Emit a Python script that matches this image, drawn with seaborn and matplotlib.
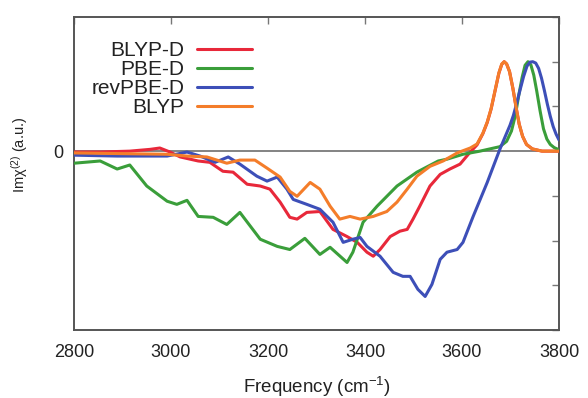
import numpy as np
import pandas as pd
import matplotlib
matplotlib.use("Agg")
import matplotlib.pyplot as plt
import seaborn as sns

# ---- data ----
series_names = ["BLYP-D", "PBE-D", "revPBE-D", "BLYP"]
series_colors = ["#e8283a", "#3a9e3a", "#3d4fb8", "#f47d2a"]

blypd_f = [2800, 2854, 2915, 2957, 2977, 2998, 3019, 3056, 3080, 3107, 3128, 3157, 3184, 3204,
           3225, 3245, 3260, 3280, 3307, 3334, 3363, 3384, 3404, 3417, 3431, 3452, 3472, 3487,
           3499, 3513, 3534, 3555, 3575, 3596, 3617, 3631, 3643, 3652, 3660, 3668, 3676, 3682,
           3687, 3692, 3698, 3705, 3712, 3718, 3725, 3733, 3745, 3765, 3800]
blypd_v = [-0.02, -0.02, 0.00, 0.04, 0.07, -0.02, -0.13, -0.22, -0.25, -0.45, -0.47, -0.74, -0.78, -0.85,
           -1.14, -1.48, -1.52, -1.37, -1.35, -1.75, -1.91, -2.04, -2.26, -2.35, -2.20, -1.91, -1.79, -1.75,
           -1.52, -1.23, -0.78, -0.52, -0.40, -0.29, -0.02, 0.14, 0.39, 0.64, 0.94, 1.34, 1.74, 1.94,
           2.0, 1.95, 1.78, 1.40, 0.95, 0.60, 0.33, 0.15, 0.05, 0.0, 0.0]

pbed_f = [2800, 2854, 2889, 2915, 2950, 2992, 3012, 3033, 3056, 3087, 3115, 3142, 3184, 3219,
          3245, 3276, 3307, 3328, 3363, 3375, 3396, 3425, 3466, 3507, 3551, 3569, 3602, 3637,
          3678, 3692, 3702, 3710, 3717, 3724, 3730, 3736, 3742, 3748, 3754, 3761, 3768, 3775,
          3782, 3790, 3800]
pbed_v = [-0.27, -0.22, -0.40, -0.31, -0.78, -1.12, -1.19, -1.10, -1.46, -1.48, -1.64, -1.37, -1.97, -2.13,
          -2.20, -1.95, -2.31, -2.15, -2.49, -2.26, -1.59, -1.23, -0.78, -0.47, -0.22, -0.18, -0.07, 0.0,
          0.10, 0.22, 0.45, 0.80, 1.25, 1.65, 1.92, 2.0, 1.93, 1.70, 1.35, 0.90, 0.50, 0.27,
          0.15, 0.08, 0.03]

revpbed_f = [2800, 2889, 2992, 3033, 3060, 3091, 3118, 3142, 3177, 3198, 3219, 3239, 3252, 3280,
             3307, 3334, 3355, 3375, 3390, 3404, 3431, 3458, 3478, 3493, 3509, 3524, 3538, 3555,
             3569, 3590, 3602, 3623, 3652, 3665, 3678, 3690, 3699, 3706, 3713, 3720, 3727, 3734,
             3740, 3746, 3752, 3758, 3764, 3770, 3776, 3782, 3788, 3794, 3800]
revpbed_v = [-0.09, -0.11, -0.11, -0.02, -0.11, -0.25, -0.13, -0.29, -0.56, -0.67, -0.58, -0.85, -1.08, -1.19,
             -1.30, -1.59, -2.04, -1.97, -1.93, -2.13, -2.35, -2.71, -2.80, -2.80, -3.09, -3.25, -2.98, -2.42,
             -2.26, -2.20, -2.04, -1.46, -0.70, -0.33, 0.04, 0.35, 0.58, 0.80, 1.08, 1.38, 1.67, 1.90,
             1.99, 2.0, 1.97, 1.85, 1.63, 1.35, 1.05, 0.78, 0.55, 0.38, 0.25]

blyp_f = [2800, 2992, 3033, 3074, 3115, 3142, 3173, 3198, 3225, 3245, 3260, 3287, 3307, 3328,
          3348, 3369, 3390, 3417, 3445, 3466, 3487, 3507, 3534, 3561, 3590, 3617, 3631, 3643,
          3652, 3660, 3668, 3676, 3682, 3687, 3692, 3698, 3705, 3712, 3718, 3725, 3733, 3745,
          3765, 3800]
blyp_v = [-0.04, -0.07, -0.11, -0.13, -0.27, -0.20, -0.20, -0.38, -0.58, -0.90, -1.01, -0.70, -0.85, -1.23,
          -1.52, -1.46, -1.52, -1.46, -1.35, -1.14, -0.85, -0.56, -0.34, -0.22, -0.04, 0.07, 0.16, 0.40,
          0.65, 0.95, 1.35, 1.75, 1.95, 2.0, 1.95, 1.78, 1.40, 0.95, 0.60, 0.33, 0.15, 0.05,
          0.0, 0.0]

x_ticks = [2800, 3000, 3200, 3400, 3600, 3800]
y_ticks = [-4, -3, -2, -1, 0, 1, 2, 3]

frames = []
for name, f, v in [("BLYP-D", blypd_f, blypd_v), ("PBE-D", pbed_f, pbed_v),
                   ("revPBE-D", revpbed_f, revpbed_v), ("BLYP", blyp_f, blyp_v)]:
    frames.append(pd.DataFrame({"freq": f, "val": v, "series": name}))
df = pd.concat(frames, ignore_index=True)

# ---- style ----
sns.set_style("white")
plt.rcParams["font.family"] = ["Liberation Sans", "DejaVu Sans"]
plt.rcParams["mathtext.fontset"] = "custom"
plt.rcParams["mathtext.rm"] = "Liberation Sans"
plt.rcParams["mathtext.it"] = "Liberation Sans:italic"

fig = plt.figure(figsize=(5.88, 3.98), dpi=100)
ax = fig.add_axes([74 / 588, 1 - 330 / 398, (559 - 74) / 588, (330 - 17) / 398])

ax.axhline(0, color="#7a7a7a", lw=1.3, zorder=1)

sns.lineplot(data=df, x="freq", y="val", hue="series", hue_order=series_names,
             palette=dict(zip(series_names, series_colors)), estimator=None,
             linewidth=2.2, ax=ax, zorder=3)

ax.set_xlim(2800, 3800)
ax.set_ylim(-4, 3)
ax.set_xticks(x_ticks)
ax.set_xticklabels([str(t) for t in x_ticks])
ax.set_yticks(y_ticks)
ax.set_yticklabels(["0" if t == 0 else "" for t in y_ticks])

for s in ax.spines.values():
    s.set_color("#555555")
    s.set_linewidth(1.4)

ax.tick_params(axis="both", direction="in", top=True, right=True, length=5, width=1,
               color="#777777", labelsize=13, labelcolor="#222222")
ax.tick_params(axis="x", pad=10)
ax.tick_params(axis="y", pad=8)

ax.set_xlabel("Frequency (cm$^{-1}$)", fontsize=13.5, color="#222222", labelpad=10)
ax.set_ylabel("Im\u03c7$^{(2)}$ (a.u.)", fontsize=10.5, color="#222222")
ax.yaxis.set_label_coords(-0.091, 0.559)

handles, labels = ax.get_legend_handles_labels()
leg = ax.legend(handles, labels, loc="upper right", bbox_to_anchor=(0.398, 0.969),
                frameon=False, markerfirst=False, fontsize=15, handlelength=2.65,
                handletextpad=0.6, labelspacing=0.0, borderaxespad=0.3)
for t in leg.get_texts():
    t.set_color("#222222")

fig.savefig("out.png", dpi=100, facecolor="white")
